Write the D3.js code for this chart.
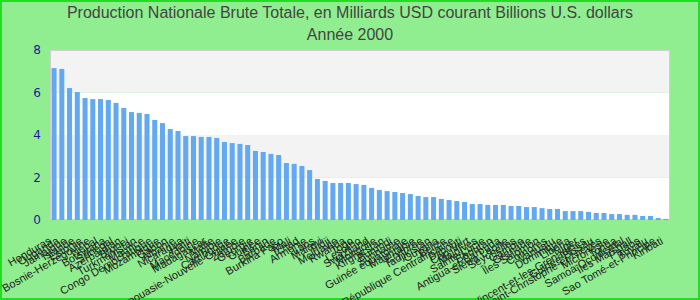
<!DOCTYPE html>
<html>
<head>
<meta charset="utf-8">
<script src="https://cdn.jsdelivr.net/npm/d3@7"></script>
<style>
  body { margin: 0; background: #90ee90; }
  svg { display: block; font-family: "Liberation Sans", Arial, sans-serif; }
</style>
</head>
<body>
<div id="container"></div>
<script>
// chart size
var width = 700;
var height = 300;
var margin = { top: 50, right: 30, bottom: 80, left: 50 };

//-----------------------------DATA------------------------------//
var titleLines = ["Production Nationale Brute Totale, en Milliards USD courant Billions U.S. dollars", "Année 2000"];

var countries = ["Honduras", "Ouganda", "Jamaïque", "Islande", "Estonie", "Bosnie-Herzégovine", "Népal", "Botswana",
    "Sénégal", "Azerbaïdjan", "Brunei", "Turkménistan", "Maurice", "Congo Démocratique", "Mozambique", "Gabon",
    "Albanie", "Nicaragua", "Haïti", "Macédoine", "Madagascar", "Malte", "Namibie", "Cambodge",
    "Papouasie-Nouvelle-Guinée", "Zambie", "Géorgie", "Guinée", "Bénin", "Barbade", "Burkina Faso", "Mali",
    "Tchad", "Arménie", "Laos", "Malawi", "Fidji", "Moldavie", "Rwanda", "Togo",
    "Lesotho", "Swaziland", "Mongolie", "Kirghizstan", "Burundi", "Suriname", "Guinée équatoriale", "Mauritanie",
    "Érythrée", "Tadjikistan", "Guyana", "Belize", "République Centrafricaine", "Djibouti", "Cap-Vert", "Maldives",
    "Sainte-Lucie", "Bhoutan", "Antigua-et-Barbuda", "Sierra Leone", "Seychelles", "Gambie", "Grenade", "Îles Salomon",
    "Comores", "Vanuatu", "Dominique", "Liberia", "Niger", "Saint-Vincent-et-les-Grenadines", "Guinée-Bissau", "Saint-Christophe-et-Niévès",
    "Micronésie", "Tonga", "Samoa Occidental", "Îles Marshall", "Palaos", "Tuvalu", "Sao Tomé-et-Principe", "Kiribati"];

var values = [7.15, 7.11, 6.21, 6.02, 5.74, 5.69, 5.69, 5.65,
    5.51, 5.27, 5.08, 5.04, 4.99, 4.71, 4.56, 4.28,
    4.19, 3.95, 3.95, 3.91, 3.91, 3.86, 3.67, 3.62,
    3.58, 3.53, 3.25, 3.20, 3.11, 3.06, 2.68, 2.64,
    2.54, 2.35, 1.93, 1.84, 1.74, 1.74, 1.74, 1.69,
    1.65, 1.51, 1.41, 1.36, 1.32, 1.27, 1.22, 1.13,
    1.08, 1.08, 0.99, 0.94, 0.89, 0.85, 0.75, 0.75,
    0.71, 0.71, 0.71, 0.66, 0.66, 0.61, 0.61, 0.56,
    0.52, 0.52, 0.42, 0.42, 0.42, 0.38, 0.33, 0.33,
    0.28, 0.28, 0.24, 0.24, 0.19, 0.19, 0.09, 0.05];

var yTicks = [0, 2, 4, 6, 8];

var data = countries.map(function (c, i) { return { name: c, value: values[i] }; });

var svg = d3.select("div#container").append("svg")
    .attr("width", width)
    .attr("height", height);

// background + frame
svg.append("rect")
    .attr("x", 1).attr("y", 1)
    .attr("width", width - 2).attr("height", height - 2)
    .attr("fill", "#90ee90")
    .attr("stroke", "#22dd22")
    .attr("stroke-width", 2);

//----------------------------SCALES-----------------------------//
var xScale = d3.scaleBand()
    .domain(countries)
    .range([margin.left, width - margin.right])
    .paddingInner(0.35)
    .paddingOuter(0.2);

var yScale = d3.scaleLinear()
    .domain([0, 8])
    .range([height - margin.bottom, margin.top]);

//----------------------------BANDS------------------------------//
var bands = d3.pairs(yTicks);
svg.append("g").selectAll("rect")
    .data(bands)
    .enter().append("rect")
    .attr("x", margin.left)
    .attr("width", width - margin.right - margin.left)
    .attr("y", function (d) { return yScale(d[1]); })
    .attr("height", function (d) { return yScale(d[0]) - yScale(d[1]); })
    .attr("fill", function (d, i) { return i % 2 == 1 ? "#f3f3f3" : "#ffffff"; });

svg.append("rect")
    .attr("x", margin.left + 0.5)
    .attr("y", margin.top + 0.5)
    .attr("width", width - margin.right - margin.left - 1)
    .attr("height", height - margin.bottom - margin.top - 1)
    .attr("fill", "none")
    .attr("stroke", "#d0d0d0")
    .attr("stroke-width", 1);

//-----------------------------BARS------------------------------//
svg.append("g").selectAll("rect")
    .data(data)
    .enter().append("rect")
    .attr("x", function (d) { return xScale(d.name); })
    .attr("width", xScale.bandwidth())
    .attr("y", function (d) { return yScale(d.value); })
    .attr("height", function (d) { return yScale(0) - yScale(d.value); })
    .attr("fill", "#63a9f2");

//-----------------------------AXES------------------------------//
var yaxis = d3.axisLeft(yScale)
    .tickValues(yTicks)
    .tickSize(0)
    .tickPadding(9);

var gy = svg.append("g")
    .attr("transform", "translate(" + margin.left + ",0)")
    .call(yaxis);
gy.select(".domain").remove();
gy.selectAll("text")
    .style("font-size", "12px")
    .style("font-family", "'DejaVu Sans', sans-serif")
    .attr("fill", "#1a1a99");

var xaxis = d3.axisBottom(xScale).tickSize(0).tickPadding(0);
var gx = svg.append("g")
    .attr("transform", "translate(0," + (height - margin.bottom) + ")")
    .call(xaxis);
gx.select(".domain").remove();
gx.selectAll("text")
    .style("text-anchor", "end")
    .style("font-size", "11px")
    .attr("fill", "#222")
    .attr("dy", "0")
    .attr("y", 0)
    .attr("transform", "translate(-2,23) rotate(-30)");

//-----------------------------TITLE-----------------------------//
svg.append("g").selectAll("text")
    .data(titleLines)
    .enter().append("text")
    .attr("x", width / 2)
    .attr("y", function (d, i) { return 18 + i * 22; })
    .style("text-anchor", "middle")
    .style("font-size", "16px")
    .attr("fill", "#444")
    .text(function (d) { return d; });
</script>
</body>
</html>
